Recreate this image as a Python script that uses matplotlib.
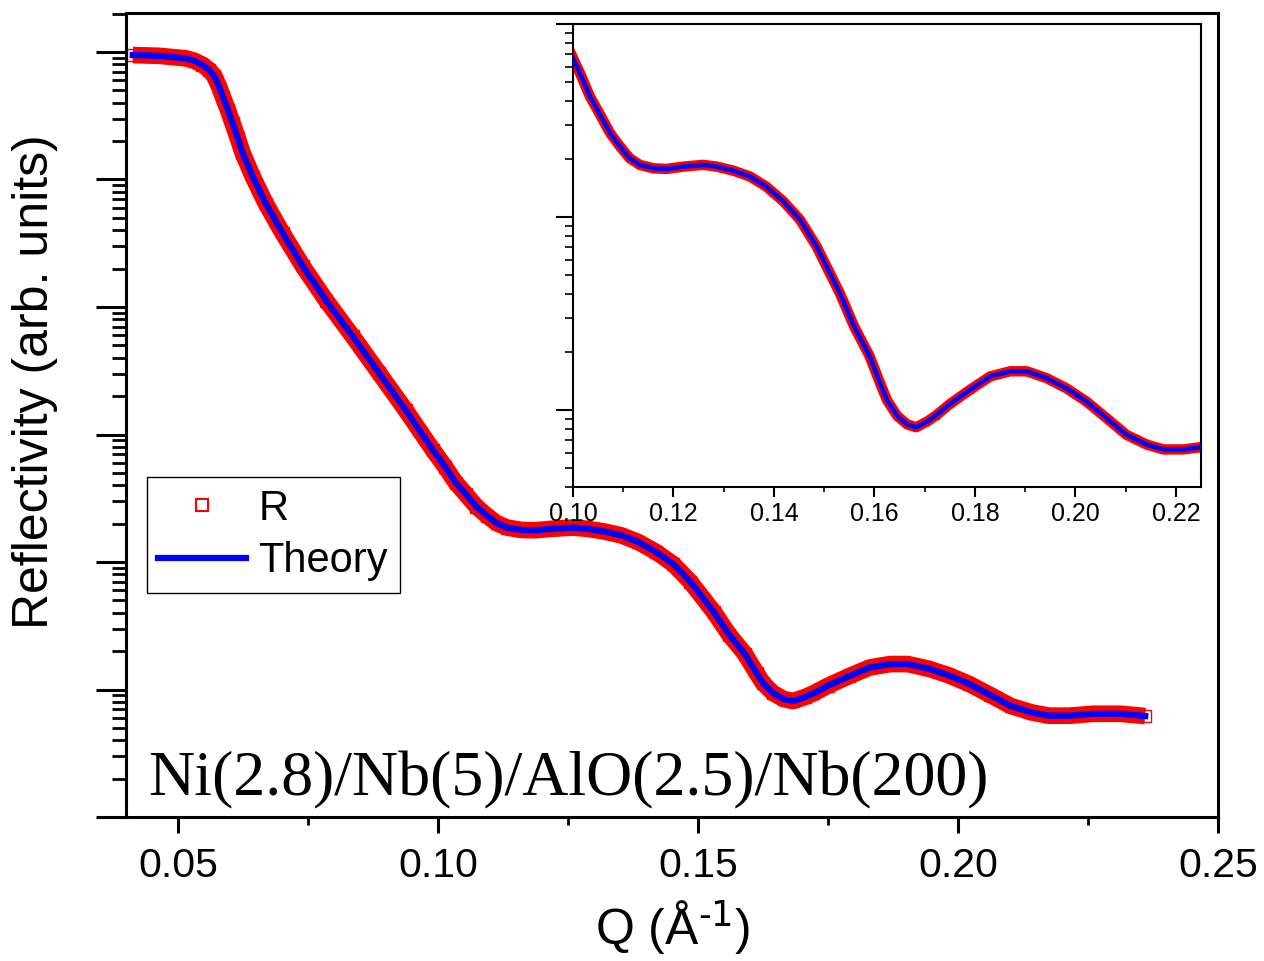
import matplotlib
matplotlib.use("Agg")
import matplotlib.pyplot as plt
import numpy as np
from matplotlib.lines import Line2D
from matplotlib.ticker import LogLocator, MultipleLocator, NullFormatter, FormatStrFormatter

plt.rcParams["font.family"] = ["Liberation Sans", "DejaVu Sans"]
plt.rcParams["mathtext.default"] = "regular"

# Q in 1/A and log10 of reflectivity
q = [0.0413, 0.0464, 0.0515, 0.0531, 0.0547, 0.0560, 0.0570, 0.0579, 0.0586,
     0.0596, 0.0605, 0.0615, 0.0624, 0.0644, 0.0669, 0.0701, 0.0740, 0.0785,
     0.0836, 0.0887, 0.0938, 0.0990, 0.1014, 0.1034, 0.1054, 0.1074, 0.1094,
     0.1113, 0.1133, 0.1160, 0.1186, 0.1220, 0.1259, 0.1286, 0.1319, 0.1352,
     0.1385, 0.1419, 0.1452, 0.1485, 0.1531, 0.1560, 0.1590, 0.1613, 0.1625,
     0.1645, 0.1665, 0.1683, 0.1705, 0.1722, 0.1750, 0.1790, 0.1830, 0.1870,
     0.1903, 0.1943, 0.1982, 0.2022, 0.2062, 0.2102, 0.2142, 0.2175, 0.2215,
     0.2260, 0.2312, 0.2360]
log_r = [-0.024, -0.030, -0.050, -0.068, -0.100, -0.141, -0.190, -0.272, -0.350,
         -0.455, -0.560, -0.677, -0.790, -0.980, -1.190, -1.420, -1.680, -1.950,
         -2.230, -2.520, -2.810, -3.120, -3.255, -3.377, -3.470, -3.566, -3.636,
         -3.696, -3.730, -3.748, -3.751, -3.739, -3.730, -3.739, -3.760, -3.790,
         -3.843, -3.920, -4.015, -4.154, -4.395, -4.570, -4.720, -4.873, -4.950,
         -5.030, -5.075, -5.090, -5.060, -5.030, -4.970, -4.896, -4.827, -4.800,
         -4.800, -4.836, -4.888, -4.957, -5.043, -5.130, -5.180, -5.205, -5.205,
         -5.190, -5.190, -5.208]
# the fit lies on top of the data at this resolution
log_theory = list(log_r)

main_xticks = [0.05, 0.10, 0.15, 0.20, 0.25]
inset_xticks = [0.10, 0.12, 0.14, 0.16, 0.18, 0.20, 0.22]
sample = "Ni(2.8)/Nb(5)/AlO(2.5)/Nb(200)"

r = 10 ** np.array(log_r)
theory = 10 ** np.array(log_theory)


def draw(ax, band, line, ms):
    """ Data as a red band of open squares, theory as a blue line. """
    ax.plot(q, r, color="red", lw=band, solid_capstyle="butt",
            solid_joinstyle="round", zorder=2)
    ax.plot(q, r, ls="none", marker="s", ms=ms, mfc="none", mec="red",
            mew=1.0, zorder=2)
    ax.plot(q, theory, color="blue", lw=line, solid_joinstyle="round",
            zorder=3)
    ax.set_yscale("log")
    ax.yaxis.set_major_locator(LogLocator(base=10, numticks=30))
    ax.yaxis.set_minor_locator(LogLocator(base=10, subs=np.arange(2, 10),
                                          numticks=30))
    ax.yaxis.set_minor_formatter(NullFormatter())
    ax.tick_params(axis="y", which="both", left=True, right=False,
                   labelleft=False, direction="out")
    ax.tick_params(axis="x", which="both", bottom=True, top=False,
                   direction="out")


fig = plt.figure(figsize=(12.64, 9.61), dpi=100)

ax = fig.add_axes([0.0997, 0.1498, 0.8639, 0.8367])
draw(ax, 12.0, 4.5, 8)
ax.set_xlim(0.04, 0.25)
ax.set_ylim(1e-6, 10 ** 0.306)
ax.set_xticks(main_xticks)
ax.xaxis.set_minor_locator(MultipleLocator(0.025))
ax.xaxis.set_major_formatter(FormatStrFormatter("%.2f"))
for s in ax.spines.values():
    s.set_linewidth(2.2)
ax.tick_params(axis="y", which="major", length=21.6, width=2.2)
ax.tick_params(axis="y", which="minor", length=10, width=2.0)
ax.tick_params(axis="x", which="major", length=11.5, width=2.2,
               labelsize=29.5, pad=10)
ax.tick_params(axis="x", which="minor", length=5.8, width=2.0)
ax.set_xlabel(r"Q (Å$^{\text{-1}}$)", fontsize=36, labelpad=10)
ax.set_ylabel("Reflectivity (arb. units)", fontsize=36)
ax.yaxis.set_label_coords(-0.062, 0.541)

ax.text(0.020, 0.027, sample, transform=ax.transAxes, fontsize=46,
        family=["Liberation Serif", "DejaVu Serif"], va="baseline")

handles = [Line2D([], [], ls="none", marker="s", ms=9, mfc="none",
                  mec="red", mew=1.5),
           Line2D([], [], color="blue", lw=4.5)]
leg = ax.legend(handles, ["R", "Theory"], loc="upper left",
                bbox_to_anchor=(0.019, 0.423), borderaxespad=0,
                fontsize=30, fancybox=False, framealpha=1, edgecolor="black",
                handlelength=2.1, handletextpad=0.3, labelspacing=0.3,
                borderpad=0.28)
leg.get_frame().set_linewidth(1.0)

ins = fig.add_axes([0.4533, 0.4932, 0.4969, 0.4818])
draw(ins, 7.5, 3.3, 5)
ins.set_xlim(0.10, 0.225)
ins.set_ylim(10 ** -5.4, 1e-3)
ins.set_xticks(inset_xticks)
ins.xaxis.set_minor_locator(MultipleLocator(0.01))
ins.xaxis.set_major_formatter(FormatStrFormatter("%.2f"))
for s in ins.spines.values():
    s.set_linewidth(1.5)
ins.tick_params(axis="y", which="major", length=12, width=1.5)
ins.tick_params(axis="y", which="minor", length=6, width=1.2)
ins.tick_params(axis="x", which="major", length=7, width=1.5,
                labelsize=18, pad=4)
ins.tick_params(axis="x", which="minor", length=3.5, width=1.2)

fig.savefig("out.png", dpi=100)
